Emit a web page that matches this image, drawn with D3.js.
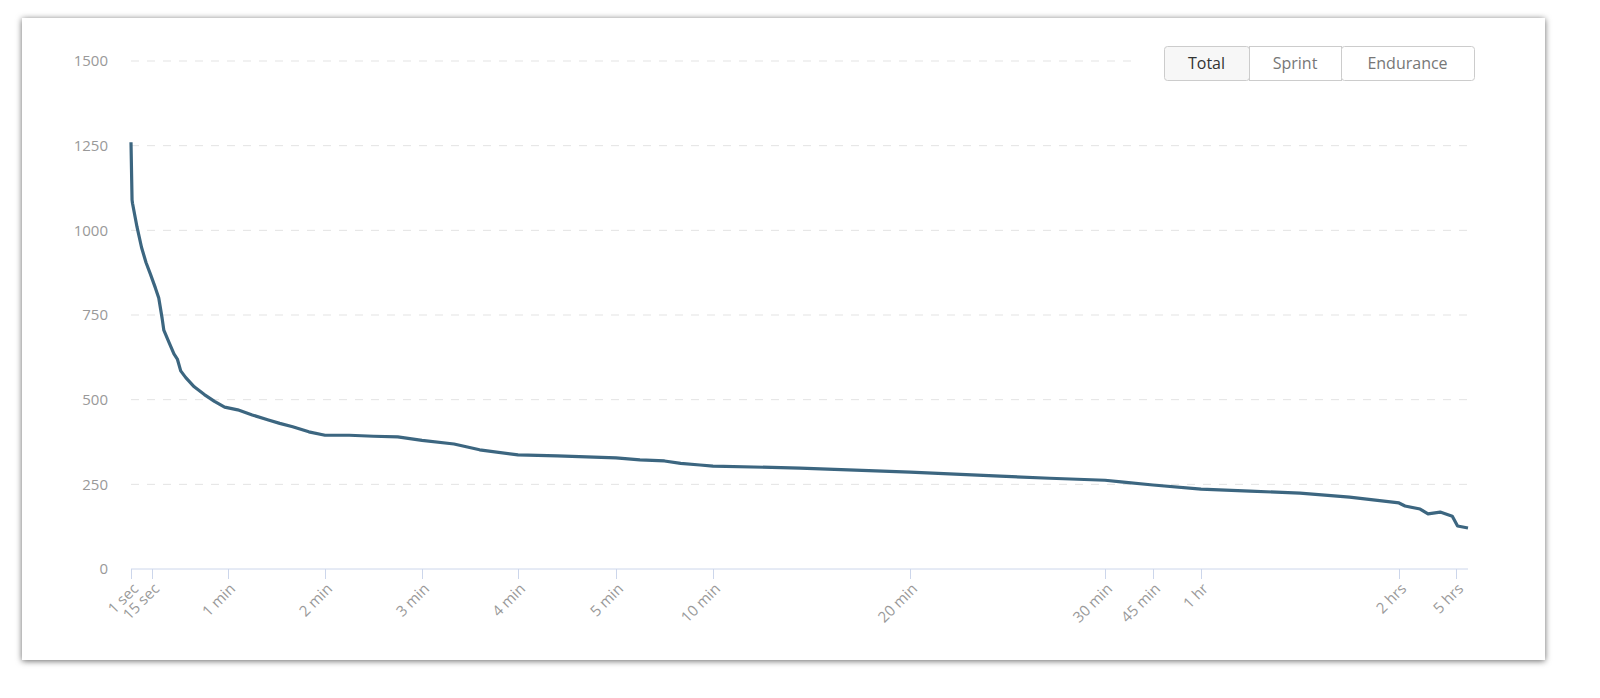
<!DOCTYPE html>
<html><head><meta charset="utf-8">
<script src="https://cdn.jsdelivr.net/npm/d3@7"></script>
<style>
html,body{margin:0;overflow:hidden;background:#fff;font-family:"Open Sans",Lato,sans-serif;}
svg{display:block;}
</style></head>
<body>
<svg id="c" width="1600" height="698"></svg>
<script>
// tick labels and the seconds they sit at (axis is piecewise, not linear in time)
var tickSecs = [1, 15, 60, 120, 180, 240, 300, 600, 1200, 1800, 2700, 3600, 7200, 18000, 20300];
var tickPx   = [131, 152, 228, 325, 422, 518, 616, 713, 910, 1105, 1153, 1201, 1399, 1456, 1468];
var tickLabels = ["1 sec","15 sec","1 min","2 min","3 min","4 min","5 min","10 min","20 min","30 min","45 min","1 hr","2 hrs","5 hrs"];
var yTicks = [0, 250, 500, 750, 1000, 1250, 1500];
var buttons = ["Total", "Sprint", "Endurance"];

// power curve: seconds, watts
var secs  = [1,1.7,2,5,8,11,14,17,19,21,22,25,28,30,32,35,40,46,52,58,66,75,85,92,100,110,120,135,150,165,180,200,216,240,264,300,374,450,500,560,600,865,1200,1477,1630,1800,2100,2700,3600,4490,5400,6300,7200,8340,11200,12700,15000,17300,18300,20300];
var watts = [1260,1090,1080,1010,950,905,870,830,800,740,705,670,635,620,585,565,538,515,495,478,470,455,440,430,420,405,395,395,392,390,380,369,352,337,334,328,322,319,312,307,304,298,286,274,268,262,257,248,236,230,224,212,195,186,177,163,168,156,127,121];

var svg = d3.select("#c");
var defs = svg.append("defs");
var f = defs.append("filter").attr("id","sh").attr("x","-5%").attr("y","-5%").attr("width","110%").attr("height","110%");
f.append("feDropShadow").attr("dx",0).attr("dy",1).attr("stdDeviation",3).attr("flood-color","#000").attr("flood-opacity",0.6);
svg.append("rect").attr("x",22).attr("y",18).attr("width",1523).attr("height",642).attr("fill","#fff").attr("filter","url(#sh)");

var x = d3.scaleLinear().domain(tickSecs).range(tickPx);
var y = d3.scaleLinear().domain([0,1500]).range([569,61]);

// grid
svg.append("g").selectAll("line").data(yTicks.slice(1)).join("line")
  .attr("x1",131).attr("x2",function(d){return d==1500?1135:1468;})
  .attr("y1",function(d){return y(d);}).attr("y2",function(d){return y(d);})
  .attr("stroke","#e3e3e3").attr("stroke-dasharray","8,8");

var ya = d3.axisLeft(y).tickValues(yTicks).tickFormat(d3.format("d")).tickSize(0).tickPadding(0);
svg.append("g").attr("transform","translate(108,0)").call(ya)
  .call(function(g){g.select(".domain").remove();})
  .selectAll("text").attr("fill","#999").style("font-size","15px").style("font-family","Open Sans");

var xa = d3.axisBottom(x).tickValues(tickSecs.slice(0,14)).tickSize(10)
  .tickFormat(function(d,i){return tickLabels[i];});
var gx = svg.append("g").attr("transform","translate(0,569)").call(xa);
gx.select(".domain").attr("stroke","#ccd6eb").attr("d","M131,0H1468");
gx.selectAll("line").attr("stroke","#ccd6eb");
gx.selectAll("text").attr("fill","#999").style("font-size","15px").style("font-family","Open Sans")
  .attr("text-anchor","end").attr("dy","0.35em").attr("y",0)
  .attr("transform","translate(4,17) rotate(-45)");

var pts = secs.map(function(s,i){return [s, watts[i]];});
svg.append("path").datum(pts).attr("fill","none").attr("stroke","#3c6680").attr("stroke-width",3.2)
  .attr("stroke-linejoin","round")
  .attr("d", d3.line().x(function(d){return x(d[0]);}).y(function(d){return y(d[1]);}));

// button group
var bx = [1164, 1249, 1341, 1474];
var bg = svg.append("g");
buttons.forEach(function(b,i){
  bg.append("rect").attr("x",bx[i]+0.5).attr("y",46.5).attr("width",bx[i+1]-bx[i]).attr("height",34)
    .attr("fill", i==0?"#f7f7f7":"#fff").attr("stroke","#ccc").attr("rx",i==1?0:3);
  bg.append("text").attr("x",(bx[i]+bx[i+1])/2).attr("y",69).attr("text-anchor","middle")
    .attr("fill", i==0?"#333":"#777").style("font-size","16px").text(b);
});
</script>
</body></html>
